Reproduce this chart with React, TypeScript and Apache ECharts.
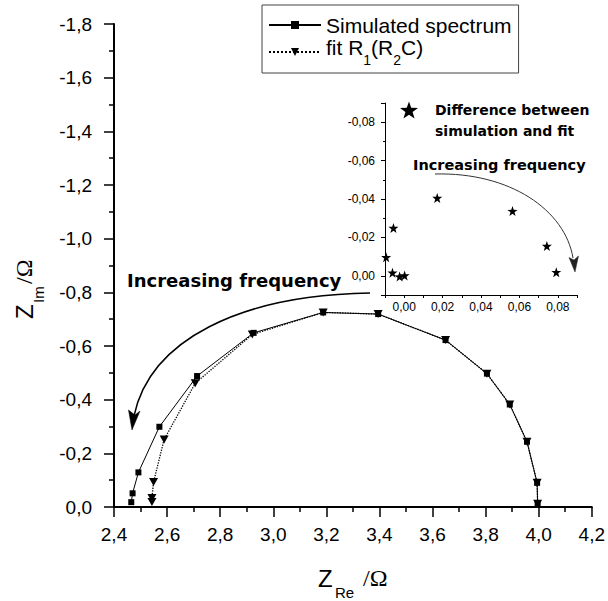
import React, { useEffect, useRef } from 'react';
import * as echarts from 'echarts';

// Main Nyquist plot (Z_Re, Z_Im)
const simRe = [2.465, 2.470, 2.492, 2.571, 2.713, 2.926, 3.188, 3.395, 3.649, 3.805, 3.891, 3.956, 3.994, 3.996];
const simIm = [-0.018, -0.051, -0.129, -0.299, -0.488, -0.649, -0.725, -0.719, -0.622, -0.497, -0.382, -0.243, -0.090, -0.012];
const fitRe = [2.543, 2.543, 2.549, 2.589, 2.706, 2.921, 3.188, 3.395, 3.649, 3.805, 3.891, 3.956, 3.994, 3.996];
const fitIm = [-0.019, -0.034, -0.093, -0.252, -0.461, -0.643, -0.725, -0.719, -0.622, -0.497, -0.382, -0.243, -0.090, -0.012];
// Inset: difference between simulation and fit
const diffRe = [-0.0094, -0.0056, -0.0061, -0.0024, 0.0002, 0.0172, 0.0564, 0.0743, 0.0792];
const diffIm = [-0.0097, -0.0249, -0.0016, 0.0004, -0.0002, -0.0405, -0.0337, -0.0155, -0.0019];

const SIM = 'Simulated spectrum';
const FIT = 'fit R1(R2C)';
const DIFF = 'Difference between simulation and fit';

const STAR = 'path://M0,-10L2.35,-3.24L9.51,-3.09L3.8,1.24L5.88,8.09L0,4L-5.88,8.09L-3.8,1.24L-9.51,-3.09L-2.35,-3.24Z';

const SANS = 'Liberation Sans, Arial, sans-serif';
const BOLD = 'DejaVu Sans, sans-serif';

export default function App() {
  const ref = useRef<HTMLDivElement>(null);
  useEffect(() => {
    document.body.style.margin = '0';
    const chart = echarts.init(ref.current!, null, { renderer: 'svg' });
    const fmt1 = (v: number) => v.toFixed(1).replace('.', ',');
    const fmt2 = (v: number) => v.toFixed(2).replace('.', ',');
    chart.setOption({
      animation: false,
      backgroundColor: '#fff',
      grid: [
        { left: 114, right: 15, top: 24, bottom: 94 },
        { left: 385, right: 31, top: 103, bottom: 306 },
      ],
      xAxis: [
        {
          type: 'value', gridIndex: 0, min: 2.4, max: 4.2, interval: 0.2,
          axisLine: { show: true, lineStyle: { color: '#000', width: 2 } },
          axisTick: { show: true, length: 10, lineStyle: { color: '#000', width: 1.5 } },
          minorTick: { show: true, splitNumber: 2, length: 5, lineStyle: { color: '#000', width: 1.5 } },
          splitLine: { show: false },
          axisLabel: { formatter: fmt1, color: '#000', fontSize: 19, fontFamily: SANS, margin: 18 },
        },
        {
          type: 'value', gridIndex: 1, min: -0.01, max: 0.09, splitNumber: 5,
          axisLine: { show: true, onZero: false, lineStyle: { color: '#000', width: 1 } },
          axisTick: { show: true, length: 3, lineStyle: { color: '#000', width: 1 } },
          minorTick: { show: true, splitNumber: 2, length: 3, lineStyle: { color: '#000', width: 1 } },
          splitLine: { show: false },
          axisLabel: { formatter: fmt2, color: '#000', fontSize: 12, fontFamily: SANS, margin: 6, showMinLabel: false, showMaxLabel: false },
        },
      ],
      yAxis: [
        {
          type: 'value', gridIndex: 0, min: -1.8, max: 0, interval: 0.2, inverse: true,
          axisLine: { show: true, lineStyle: { color: '#000', width: 2 } },
          axisTick: { show: true, length: 10, lineStyle: { color: '#000', width: 1.5 } },
          minorTick: { show: true, splitNumber: 2, length: 5, lineStyle: { color: '#000', width: 1.5 } },
          splitLine: { show: false },
          axisLabel: { formatter: fmt1, color: '#000', fontSize: 19, fontFamily: SANS, margin: 22 },
        },
        {
          type: 'value', gridIndex: 1, min: -0.09, max: 0.01, splitNumber: 5, inverse: true,
          axisLine: { show: true, onZero: false, lineStyle: { color: '#000', width: 1 } },
          axisTick: { show: true, length: 4, lineStyle: { color: '#000', width: 1 } },
          minorTick: { show: true, splitNumber: 2, length: 2, lineStyle: { color: '#000', width: 1 } },
          splitLine: { show: false },
          axisLabel: { formatter: fmt2, color: '#000', fontSize: 12, fontFamily: SANS, margin: 10, showMinLabel: false, showMaxLabel: false },
        },
      ],
      legend: [
        {
          data: [SIM, FIT],
          orient: 'vertical',
          left: 262, top: 5,
          padding: [10, 7, 6, 6],
          itemGap: 1,
          itemWidth: 52, itemHeight: 10,
          borderColor: '#444', borderWidth: 1,
          backgroundColor: '#fff',
          selectedMode: false,
          formatter: (name: string) =>
            name === FIT ? '{t|fit R}{s|1}{t|(R}{s|2}{t|C)}' : '{t|' + name + '}',
          textStyle: {
            color: '#000', fontFamily: SANS, fontSize: 21,
            rich: {
              t: { fontFamily: SANS, fontSize: 21, lineHeight: 20, verticalAlign: 'top', color: '#000' },
              s: { fontFamily: SANS, fontSize: 14, lineHeight: 30, verticalAlign: 'bottom', color: '#000' },
            },
          },
        },
        {
          data: [DIFF],
          orient: 'vertical',
          left: 400, top: 78.5,
          padding: 0,
          itemWidth: 18, itemHeight: 18,
          itemGap: 0,
          selectedMode: false,
          itemStyle: { opacity: 1 },
          formatter: () => '{a| }\n{a|Difference between}\n{a|simulation and fit}',
          textStyle: {
            color: '#000', fontFamily: BOLD, fontWeight: 'bold', fontSize: 14, lineHeight: 21,
            rich: {
              a: { color: '#000', fontFamily: BOLD, fontWeight: 'bold', fontSize: 14, lineHeight: 21, padding: [0, 0, 0, 12] },
            },
          },
        },
      ],
      series: [
        {
          name: SIM, type: 'line', xAxisIndex: 0, yAxisIndex: 0,
          data: simRe.map((x, i) => [x, simIm[i]]),
          symbol: 'rect', symbolSize: 6,
          lineStyle: { color: '#000', width: 1 },
          itemStyle: { color: '#000' },
          z: 2,
        },
        {
          name: FIT, type: 'line', xAxisIndex: 0, yAxisIndex: 0,
          data: fitRe.map((x, i) => [x, fitIm[i]]),
          symbol: 'triangle', symbolRotate: 180, symbolSize: [9, 8],
          lineStyle: { color: '#000', width: 1.3, type: 'dotted' },
          itemStyle: { color: '#000' },
          z: 3,
        },
        {
          name: DIFF, type: 'scatter', xAxisIndex: 1, yAxisIndex: 1,
          data: diffRe.map((x, i) => [x, diffIm[i]]),
          symbol: STAR, symbolSize: 10,
          itemStyle: { color: '#000', opacity: 1 },
        },
      ],
      graphic: [
        {
          type: 'text', x: 127, y: 280,
          style: { text: 'Increasing frequency', fill: '#000', font: 'bold 18px DejaVu Sans', align: 'left', verticalAlign: 'middle' },
        },
        {
          type: 'bezierCurve',
          shape: { x1: 370, y1: 293, cpx1: 240, cpy1: 295, cpx2: 150, cpy2: 340, x2: 134, y2: 416 },
          style: { stroke: '#000', lineWidth: 1.5, fill: 'none' },
        },
        {
          type: 'polygon',
          shape: { points: [[132, 430], [140, 411], [135, 415], [128.5, 410]] },
          style: { fill: '#000', stroke: '#000', lineWidth: 0.5 },
        },
        {
          type: 'text', x: 413, y: 165,
          style: { text: 'Increasing frequency', fill: '#000', font: 'bold 14.5px DejaVu Sans', align: 'left', verticalAlign: 'middle' },
        },
        {
          type: 'bezierCurve',
          shape: { x1: 435, y1: 174, cpx1: 510, cpy1: 172, cpx2: 565, cpy2: 210, x2: 573, y2: 258 },
          style: { stroke: '#333', lineWidth: 1, fill: 'none' },
        },
        {
          type: 'polygon',
          shape: { points: [[575, 272], [578.5, 256], [574, 260], [569, 257.5]] },
          style: { fill: '#222', stroke: '#222', lineWidth: 0.5 },
        },
        // x-axis title
        { type: 'text', x: 318, y: 578, style: { text: 'Z', fill: '#000', font: '24px Liberation Sans', align: 'left', verticalAlign: 'middle' } },
        { type: 'text', x: 335, y: 592, style: { text: 'Re', fill: '#000', font: '15px Liberation Sans', align: 'left', verticalAlign: 'middle' } },
        { type: 'text', x: 363, y: 578, style: { text: '/Ω', fill: '#000', font: '24px Liberation Serif', align: 'left', verticalAlign: 'middle' } },
        // y-axis title
        { type: 'text', x: 24, y: 319, rotation: Math.PI / 2, style: { text: 'Z', fill: '#000', font: '24px Liberation Sans', align: 'left', verticalAlign: 'middle' } },
        { type: 'text', x: 38, y: 303, rotation: Math.PI / 2, style: { text: 'Im', fill: '#000', font: '15px Liberation Sans', align: 'left', verticalAlign: 'middle' } },
        { type: 'text', x: 24, y: 284, rotation: Math.PI / 2, style: { text: '/Ω', fill: '#000', font: '24px Liberation Serif', align: 'left', verticalAlign: 'middle' } },
      ],
    });
    return () => chart.dispose();
  }, []);
  return <div ref={ref} style={{ width: 608, height: 601 }} />;
}
